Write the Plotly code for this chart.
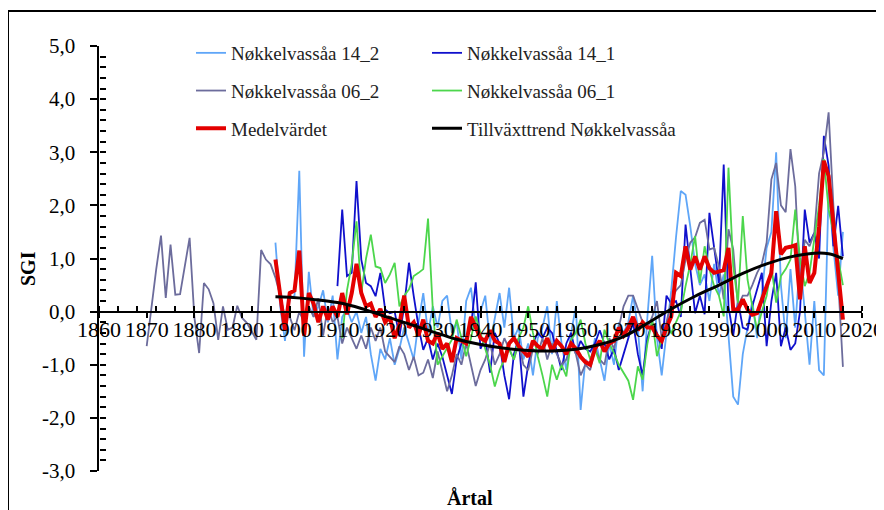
import plotly.graph_objects as go

# ---------------- data ----------------
gray_start = 1870  # Nøkkelvassåa 06_2
gray_vals = [
    -0.65, 0.1, 0.8, 1.43, 0.26, 1.26, 0.32, 0.33, 0.85, 1.39,
    -0.11, -0.78, 0.54, 0.42, 0.16, -0.53, 0.1, -0.34, -0.3, 0.11,
    -0.12, -0.21, -0.37, -0.53, 1.16, 0.98, 0.89, 0.64, 0.3, -0.1,
    -0.1, -0.35, 0.0, -0.2, 0.1, -0.1, 0.25, -0.45, 0.1, -0.2,
    -0.1, -0.6, -0.3, -0.5, -0.7, -0.45, -0.7, -0.3, -0.55, -0.3,
    -0.75, -0.85, -0.95, -0.65, -0.8, -1.1, -0.85, -1.2, -1.15, -0.9,
    -1.25, -0.75, -1.1, -1.5, -1.2, -0.8, -1.0, -0.6, -1.0, -1.4,
    -1.1, -0.9, -0.6, -1.0, -0.8, -0.5, -0.7, -0.9, -0.6, -1.0,
    -1.1, -0.7, -0.8, -0.5, -0.9, -0.6, -0.8, -1.0, -0.9, -0.6,
    -0.8, -1.2, -1.0, -1.1, -0.7, -0.9, -1.0, -0.5, -0.7, -0.3,
    0.1, 0.3, 0.3, 0.05, -0.2, -0.3, -0.1, 0.2, -0.5, -0.2,
    0.2, 0.4, 0.5, 0.98, 1.3, 1.4, 1.67, 1.73, 1.17, 1.2,
    0.85, 0.23, 1.55, 1.17, 0.1, 0.3, 0.3, 0.5, 0.73, 0.9,
    1.3, 2.49, 2.8, 2.0, 1.87, 3.06, 2.36, 0.5, 1.35, 1.23,
    1.48, 2.6, 3.0, 3.75, 2.0, 0.6, -1.04,
]

lblue_start = 1897  # Nøkkelvassåa 14_2
lblue_vals = [
    1.3, 0.1, -0.55,
    0.25, 0.3, 2.65, -0.85, 0.75, -0.1, 0.1, 0.4, -0.2, 0.3,
    -0.9, -0.1, 0.05, -0.2, 0.0, -0.4, -0.1, -0.8, -1.3, -0.7,
    -0.9, -0.5, -1.0, -0.7, -0.3, -0.6, -0.9, -0.2, 0.35, -0.4,
    0.1, -0.3, 0.2, 0.3, -0.4, -0.2, -0.9, 0.2, 0.45, -0.3,
    0.0, 0.3, -0.6, -0.1, 0.35, -0.3, 0.45, -0.5, -0.3, -0.9,
    -0.6, -1.2, -0.5, -0.3, 0.1, -0.8, 0.2, -0.6, -1.1, -0.4,
    0.1, -1.85, -0.9, -1.0, -0.5, -0.9, -1.3, -0.6, -1.0, -0.2,
    -0.4, -0.2, 0.3, -0.3, -1.5, -0.1, 1.05, -0.5, -1.2, -0.4,
    0.4, 1.4, 2.27, 2.2, 1.6, 0.9, 0.5, 0.7, 0.2, 0.9,
    0.3, 0.7, -0.4, -1.6, -1.75, -0.8, -0.3, 0.2, -0.5, 0.4,
    1.2, 1.5, 3.0, 0.5, -0.5, 0.8, -0.3, 1.0, 0.0, -1.0,
    0.2, -1.1, -1.2, 2.3, 1.2, 0.3, 1.5,
]

dblue_start = 1910  # Nøkkelvassåa 14_1
dblue_vals = [
    0.48, 1.92, 0.67, 0.73, 2.46, 0.98, 0.54, 0.48, 0.29, 0.73,
    0.04, -0.03, 0.0, -0.47, 0.1, 0.92, 0.29, -0.28, -0.72, -0.5,
    -0.9, -0.6, -0.85, -1.2, -1.55, -0.9, -0.6, -0.5, -0.3, 0.55,
    -0.7, -0.5, -1.15, -0.4, -0.6, -1.2, -1.65, -0.8, -0.5, -1.6,
    -1.0, -0.6, -0.4, -0.5, -0.3, -0.4, -0.75, -1.1, -0.6, -0.4,
    -0.8, -0.55, -0.7, -0.75, -0.6, -0.35, -0.6, -0.9, -0.7, -1.1,
    -0.8, -0.5, -0.2, -0.8, -1.2, -0.5, -0.2, -0.4, -0.7, 0.3,
    0.15, 0.2, -0.1, 1.64, 0.79, -0.03, 0.3, -0.05, 1.86, 1.17,
    0.54, 2.77, 0.1, -0.45, 0.2, -0.3, -0.34, 0.1, 0.4, 0.73,
    -0.65, 0.2, 0.73, -0.65, -0.3, -0.72, -0.6, 0.0, 1.92, 1.3,
    1.48, 1.0, 3.31, 2.75, 1.23, 1.99, 1.04,
]

green_start = 1911  # Nøkkelvassåa 06_1
green_vals = [
    -0.5, 0.4, 0.9, 1.7, 0.35, 1.0, 1.45, 0.85, 0.82,
    0.54, 0.7, 0.92, 0.1, 0.3, 0.42, 0.67, 0.73, 0.8, 1.75,
    0.04, -1.0, -0.84, -0.7, -0.53, -0.15, -0.5, -0.84, -0.5, -0.09,
    -0.4, -0.72, -1.0, -1.41, -1.1, -0.9, -0.7, -0.9, -0.5, -0.3,
    0.1, -0.4, -0.84, -1.2, -1.6, -1.0, -1.28, -1.0, -1.22, -0.53,
    -0.4, -0.15, -0.6, -0.9, -0.7, -0.97, -0.34, -0.6, -0.78, -1.0,
    -1.16, -1.3, -1.66, -1.03, -1.28, -0.6, -0.15, -0.84, -0.5, -0.28,
    -0.4, -0.2, 0.0, 0.48, 0.9, 1.42, 0.54, 1.23, 0.8, 0.48,
    0.3, -0.09, 2.71, 0.85, 0.17, 1.8, 0.6, 0.1, -0.34, 0.0,
    0.3, 0.85, 0.17, 0.67, 0.8, 0.98, 1.92, 1.0, 0.48, 0.73,
    1.36, 2.0, 2.87, 1.92, 1.5, 0.98, 0.5,
]

mean_start = 1897  # Medelvärdet
mean_vals = [
    0.98, 0.3, -0.35,
    0.35, 0.4, 1.15, -0.45, 0.35, 0.15, -0.2, 0.1, -0.15, 0.1,
    -0.1, 0.35, -0.05, 0.35, 0.9, 0.35, 0.1, 0.15, -0.1, 0.05,
    -0.2, -0.1, -0.5, -0.25, 0.3, -0.3, -0.2, -0.45, -0.15, -0.55,
    -0.6, -0.4, -0.7, -0.6, -0.95, -0.5, -0.55, -0.6, -0.1, -0.3,
    -0.5, -0.55, -0.35, -0.55, -0.6, -0.95, -0.6, -0.5, -0.65, -0.75,
    -0.85, -0.55, -0.65, -0.7, -0.5, -0.75, -0.55, -0.65, -0.8, -0.6,
    -0.7, -0.85, -0.95, -1.0, -0.7, -0.55, -0.75, -0.6, -0.55, -0.3,
    -0.45, -0.3, -0.1, -0.35, -0.2, -0.3, -0.3, -0.45, -0.55, -0.3,
    -0.09, 0.73, 0.67, 1.23, 0.79, 1.04, 0.79, 1.04, 0.82, 0.73,
    0.76, 0.78, 1.2, 0.04, 0.04, 0.23, 0.04, -0.06, -0.03, 0.2,
    0.48, 0.73, 1.89, 1.08, 1.2, 1.22, 1.25, 0.23, 1.23, 0.54,
    0.73, 1.6, 2.84, 2.55, 1.61, 0.73, -0.15,
]

trend_years = [1897, 1900, 1905, 1910, 1915, 1920, 1925, 1930, 1935, 1940, 1945,
               1950, 1955, 1960, 1965, 1970, 1975, 1980, 1985, 1990, 1995, 2000,
               2005, 2010, 2013, 2016]
trend_vals = [0.28, 0.27, 0.23, 0.17, 0.06, -0.09, -0.23, -0.38, -0.52, -0.62, -0.69,
              -0.73, -0.74, -0.71, -0.62, -0.47, -0.22, 0.05, 0.29, 0.5, 0.72, 0.9,
              1.03, 1.1, 1.09, 1.0]

y_tickvals = [5, 4, 3, 2, 1, 0, -1, -2, -3]
y_ticktext = ["5,0", "4,0", "3,0", "2,0", "1,0", "0,0", "-1,0", "-2,0", "-3,0"]
x_tickvals = list(range(1860, 2021, 10))
x_ticktext = [str(v) for v in x_tickvals]


def yrs(start, vals):
    return list(range(start, start + len(vals)))


FONT = "Liberation Serif, Times New Roman, serif"

series = [
    ("Nøkkelvassåa 14_2", lblue_start, lblue_vals, "#5FA6F8", 1.8, "legend"),
    ("Nøkkelvassåa 14_1", dblue_start, dblue_vals, "#1010CC", 1.8, "legend2"),
    ("Nøkkelvassåa 06_2", gray_start, gray_vals, "#6C6C9C", 1.8, "legend"),
    ("Nøkkelvassåa 06_1", green_start, green_vals, "#4CD64C", 1.8, "legend2"),
    ("Medelvärdet", mean_start, mean_vals, "#E40000", 4, "legend"),
]

fig = go.Figure()
for i, (name, start, vals, color, w, leg) in enumerate(series):
    fig.add_trace(go.Scatter(
        x=yrs(start, vals), y=vals, mode="lines", name=name,
        line=dict(color=color, width=w), legend=leg, legendgroup=f"g{i}",
    ))
fig.add_trace(go.Scatter(
    x=trend_years, y=trend_vals, mode="lines", name="Tillväxttrend Nøkkelvassåa",
    line=dict(color="black", width=3, shape="spline"), legend="legend2",
    legendgroup="g9",
))

# The page body has an 8px margin, so the figure is drawn 8px in from the
# window corner. Positions below are given in window pixels.
OFF = 8
W, H = 884 - OFF, 510 - OFF
L, R, T, B = 99 - OFF, 862 - OFF, 46 - OFF, 471 - OFF


def px_x(p):
    return (p - OFF - L) / (R - L)


def px_y(p):
    return (B - (p - OFF)) / (B - T)


legend_common = dict(
    font=dict(family=FONT, size=19, color="#222"),
    bgcolor="rgba(0,0,0,0)", borderwidth=0, tracegroupgap=10,
    traceorder="grouped", xanchor="left", yanchor="top",
)

# labels padded on the right so they sit further from the axis
y_labels_shown = [t + "\u00a0\u00a0" for t in y_ticktext]

fig.update_layout(
    width=W, height=H,
    margin=dict(l=L, r=W - R, t=T, b=H - B, autoexpand=False),
    paper_bgcolor="white", plot_bgcolor="white",
    font=dict(family=FONT, color="black"),
    showlegend=True,
    legend=dict(x=px_x(183 + OFF), y=px_y(34), **legend_common),
    legend2=dict(x=px_x(419 + OFF), y=px_y(34), **legend_common),
    xaxis=dict(
        range=[1860, 2020], anchor="free", position=0.375,
        showline=True, linecolor="black", linewidth=2,
        ticks="outside", ticklen=5, tickwidth=2, tickcolor="black",
        tickvals=x_tickvals, ticktext=x_ticktext, ticklabelstandoff=-7,
        tickfont=dict(family=FONT, size=22, color="black"),
        minor=dict(ticks="inside", dtick=4, tick0=1860, ticklen=5,
                   tickwidth=2, tickcolor="black"),
        showgrid=False, zeroline=False, automargin=False,
    ),
    yaxis=dict(
        range=[-3, 5], showline=True, linecolor="black", linewidth=2,
        ticks="outside", ticklen=7, tickwidth=2, tickcolor="black",
        tickvals=y_tickvals, ticktext=y_labels_shown,
        tickfont=dict(family=FONT, size=21, color="black"),
        showgrid=False, zeroline=False, automargin=False,
    ),
    yaxis2=dict(
        range=[-3, 5], overlaying="y", anchor="free", position=0, side="left",
        ticks="inside", dtick=0.2, tick0=0, ticklen=6, tickwidth=2,
        tickcolor="black", showticklabels=False, showline=False,
        showgrid=False, zeroline=False, automargin=False,
    ),
    annotations=[
        dict(text="<b>SGI</b>", textangle=-90, x=px_x(28), y=px_y(269),
             xref="paper", yref="paper", showarrow=False,
             xanchor="center", yanchor="middle",
             font=dict(family=FONT, size=20, color="black")),
        dict(text="<b>Årtal</b>", x=px_x(470), y=px_y(498),
             xref="paper", yref="paper", showarrow=False,
             xanchor="center", yanchor="middle",
             font=dict(family=FONT, size=20, color="black")),
    ],
    shapes=[
        dict(type="rect", xref="paper", yref="paper",
             x0=px_x(8), x1=px_x(880), y0=px_y(540), y1=px_y(11),
             line=dict(color="black", width=2), fillcolor="rgba(0,0,0,0)",
             layer="below"),
    ],
)
# invisible trace to render the overlay tick axis
fig.add_trace(go.Scatter(x=[None], y=[None], yaxis="y2", showlegend=False,
                         hoverinfo="skip"))

fig.write_html("out.html")
